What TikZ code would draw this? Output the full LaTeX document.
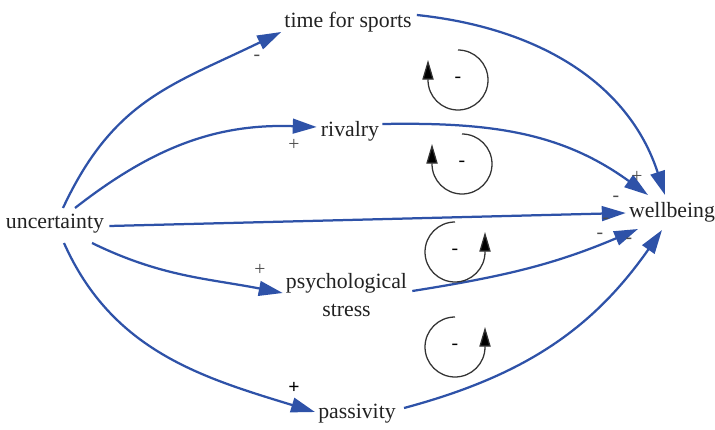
\documentclass[tikz,border=0pt]{standalone}
\usepackage{fontspec}
\setmainfont{Liberation Serif}
\usepackage{xcolor}
\usepackage{tikz}
\usetikzlibrary{arrows.meta,calc}
\definecolor{linkblue}{RGB}{46,82,168}
\definecolor{txtgray}{RGB}{34,34,34}

\begin{document}
\begin{tikzpicture}[x=0.025cm, y=0.025cm,
        var/.style={inner sep=0pt, text=txtgray,
                    font=\fontsize{15.5}{20}\selectfont},
        link/.style={draw=linkblue, line width=1.6pt,
                     -{Triangle[length=17pt,width=10.5pt]}},
        cyc/.style={draw=black!80, line width=0.9pt,
                    -{Triangle[length=14pt,width=8pt,fill=black]}},
        sgn/.style={inner sep=0pt, text=black!70,
                    font=\fontsize{14}{16}\selectfont}
      ]
        \useasboundingbox (0,0) rectangle (715,429);
        % variables
        \node[var, anchor=base] (unc) at (55,201) {uncertainty};
        \node[var, anchor=base] (time) at (348,401) {time for sports};
        \node[var, anchor=base] (riv) at (350,293) {rivalry};
        \node[var, anchor=north, align=center] (psych) at (346.5,156)
              {psychological\\stress};
        \node[var, anchor=base] (pass) at (357,11) {passivity};
        \node[var, anchor=base] (wb) at (672,212) {wellbeing};
        % links out of uncertainty
        \draw[link] ([shift={(8,20)}]unc.base)
              to[out=65,in=206,looseness=1.1] ([shift={(-3,-4)}]time.base west);
        \draw[link] ([shift={(20,20)}]unc.base)
              to[out=38,in=178] ([shift={(-4,9)}]riv.base west);
        \draw[link] ([shift={(5,2)}]unc.base east)
              -- ([shift={(-3,4)}]wb.base west);
        \draw[link] ([shift={(37,-15)}]unc.base)
              to[out=-26,in=169] ([shift={(-3,-20)}]psych.north west);
        \draw[link] ([shift={(9,-15)}]unc.base)
              to[out=-66,in=163] ([shift={(-3,6)}]pass.base west);
        % links into wellbeing
        \draw[link] ([shift={(5,13)}]time.base east)
              to[out=-6,in=108] ([shift={(-7,22)}]wb.base);
        \draw[link] ([shift={(3,12)}]riv.base east)
              to[out=1,in=144] ([shift={(-24,22)}]wb.base);
        \draw[link] ([shift={(5,-18)}]psych.north east)
              to[out=9,in=203] ([shift={(-34,-12)}]wb.base);
        \draw[link] ([shift={(8,10)}]pass.base east)
              to[out=15,in=235] ([shift={(-10,-13)}]wb.base);
        % polarities
        \node[sgn] (s1) at (257,371) {-};
        \node[sgn] (s2) at (294,284) {+};
        \node[sgn] (s3) at (260,159) {+};
        \node[sgn, text=black] (s4) at (294,41) {\textbf{+}};
        \node[sgn] (s5) at (637,252) {+};
        \node[sgn] (s6) at (616,230) {-};
        \node[sgn] (s7) at (606,208) {-};
        \node[sgn] (s8) at (600,193) {-};
        \node[sgn] (s9) at (629,188) {-};
        % balancing loops
        \foreach \nm/\cx/\cy in {L1/458/349, L2/462/265}{
          \coordinate (\nm) at (\cx,\cy);
          \draw[cyc] (\nm) ++(0,30) arc[start angle=90,end angle=-180,radius=30]
                -- ++(0,20);
          \node[sgn, text=black] at (\nm) {-};
        }
        \foreach \nm/\cx/\cy in {L3/455/177, L4/455/82}{
          \coordinate (\nm) at (\cx,\cy);
          \draw[cyc] (\nm) ++(0,30) arc[start angle=90,end angle=360,radius=30]
                -- ++(0,20);
          \node[sgn, text=black] at (\nm) {-};
        }
      \end{tikzpicture}
\end{document}
